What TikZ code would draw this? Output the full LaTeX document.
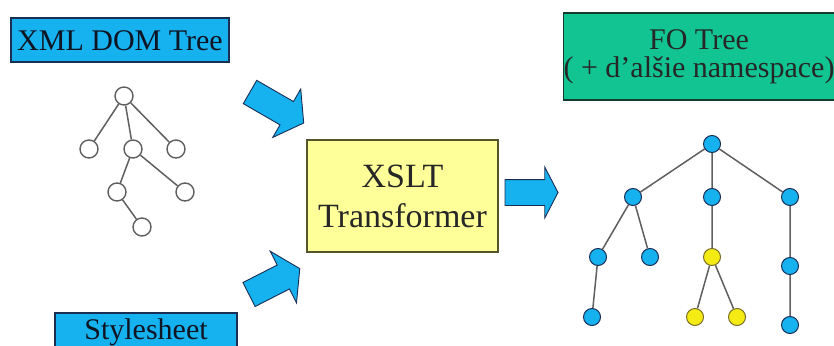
\documentclass[tikz,border=0pt]{standalone}
\usepackage{fontspec}
\setmainfont{Liberation Serif}
\usetikzlibrary{shapes.arrows}

\definecolor{skyblue}{RGB}{22,178,240}
\definecolor{navyline}{RGB}{25,45,85}
\definecolor{paleyellow}{RGB}{255,255,153}
\definecolor{olivedark}{RGB}{85,85,45}
\definecolor{fogreen}{RGB}{18,196,146}
\definecolor{greendark}{RGB}{20,60,45}
\definecolor{treeline}{RGB}{95,95,95}
\definecolor{leafyellow}{RGB}{245,235,20}
\definecolor{leafline}{RGB}{120,110,40}
\definecolor{textdark}{RGB}{15,20,35}

\tikzset{
  bluebox/.style={draw=navyline, line width=1.2pt, fill=skyblue, text=textdark,
    inner sep=0pt, outer sep=0pt, font=\fontsize{30}{28}\selectfont},
  xsltbox/.style={draw=olivedark, line width=1.2pt, fill=paleyellow, text=black!85,
    inner sep=0pt, outer sep=0pt, align=center, font=\fontsize{34}{40}\selectfont},
  fobox/.style={draw=greendark, line width=1.2pt, fill=fogreen, text=black!85,
    inner sep=0pt, outer sep=0pt, align=center, font=\fontsize{30}{28}\selectfont},
  blockarrow/.style={single arrow, draw=navyline, line width=0.9pt, fill=skyblue,
    inner xsep=0pt, inner ysep=13pt, outer sep=0pt, anchor=tail},
  hollow/.style={circle, draw=treeline, line width=1.4pt, fill=white,
    minimum size=18pt, inner sep=0pt},
  bluedot/.style={circle, draw=navyline, line width=1pt, fill=skyblue,
    minimum size=17pt, inner sep=0pt},
  yellowdot/.style={circle, draw=leafline, line width=1pt, fill=leafyellow,
    minimum size=17pt, inner sep=0pt},
  branch/.style={draw=treeline, line width=1.5pt},
}

\begin{document}
\begin{tikzpicture}[x=1pt, y=-1pt]
\useasboundingbox (0,0) rectangle (834,345);

% label boxes
\node[bluebox, minimum width=218pt, minimum height=44pt, text height=20pt, text depth=0pt]
  (xmlbox) at (120,40) {XML DOM Tree};
\node[bluebox, minimum width=182pt, minimum height=40pt, text height=20pt, text depth=8pt]
  (stylebox) at (146,333) {Stylesheet};
\node[xsltbox, minimum width=191pt, minimum height=112pt]
  (xslt) at (402.5,196) {XSLT\\Transformer};
\node[fobox, minimum width=268pt, minimum height=87pt]
  (fobox) at (699,56.5) {FO Tree\\( + d’alšie namespace)};

% block arrows
\node[blockarrow, minimum height=62pt, minimum width=55pt,
  single arrow head extend=14.5pt, single arrow tip angle=110, rotate=-30]
  (inA) at (250,92) {};
\node[blockarrow, minimum height=57pt, minimum width=57pt,
  single arrow head extend=15.5pt, single arrow tip angle=115, rotate=27]
  (inB) at (249,294.5) {};
\node[blockarrow, minimum height=53pt, minimum width=50pt, inner ysep=12.5pt,
  single arrow head extend=12.5pt, single arrow tip angle=125]
  (outC) at (505,192.5) {};

% source tree
\node[hollow] (x0) at (124,96) {};
\node[hollow] (x1) at (89,149) {};
\node[hollow] (x2) at (133,149) {};
\node[hollow] (x3) at (176,149) {};
\node[hollow] (x4) at (117,192) {};
\node[hollow] (x5) at (185,192) {};
\node[hollow] (x6) at (142,227) {};
\draw[branch] (x0) -- (x1) (x0) -- (x2) (x0) -- (x3)
              (x2) -- (x4) (x2) -- (x5) (x4) -- (x6);

% result tree
\node[bluedot] (f0) at (712,144) {};
\node[bluedot] (f1) at (633,197) {};
\node[bluedot] (f2) at (712,197) {};
\node[bluedot] (f3) at (790,197) {};
\node[bluedot] (f4) at (598,257) {};
\node[bluedot] (f5) at (650,257) {};
\node[yellowdot] (f6) at (712,257) {};
\node[bluedot] (f7) at (790,266) {};
\node[bluedot] (f8) at (592,317) {};
\node[yellowdot] (f9) at (695,317) {};
\node[yellowdot] (f10) at (737,317) {};
\node[bluedot] (f11) at (790,325) {};
\draw[branch] (f0) -- (f1) (f0) -- (f2) (f0) -- (f3)
              (f1) -- (f4) (f1) -- (f5) (f2) -- (f6) (f3) -- (f7)
              (f4) -- (f8) (f6) -- (f9) (f6) -- (f10) (f7) -- (f11);
\end{tikzpicture}
\end{document}
